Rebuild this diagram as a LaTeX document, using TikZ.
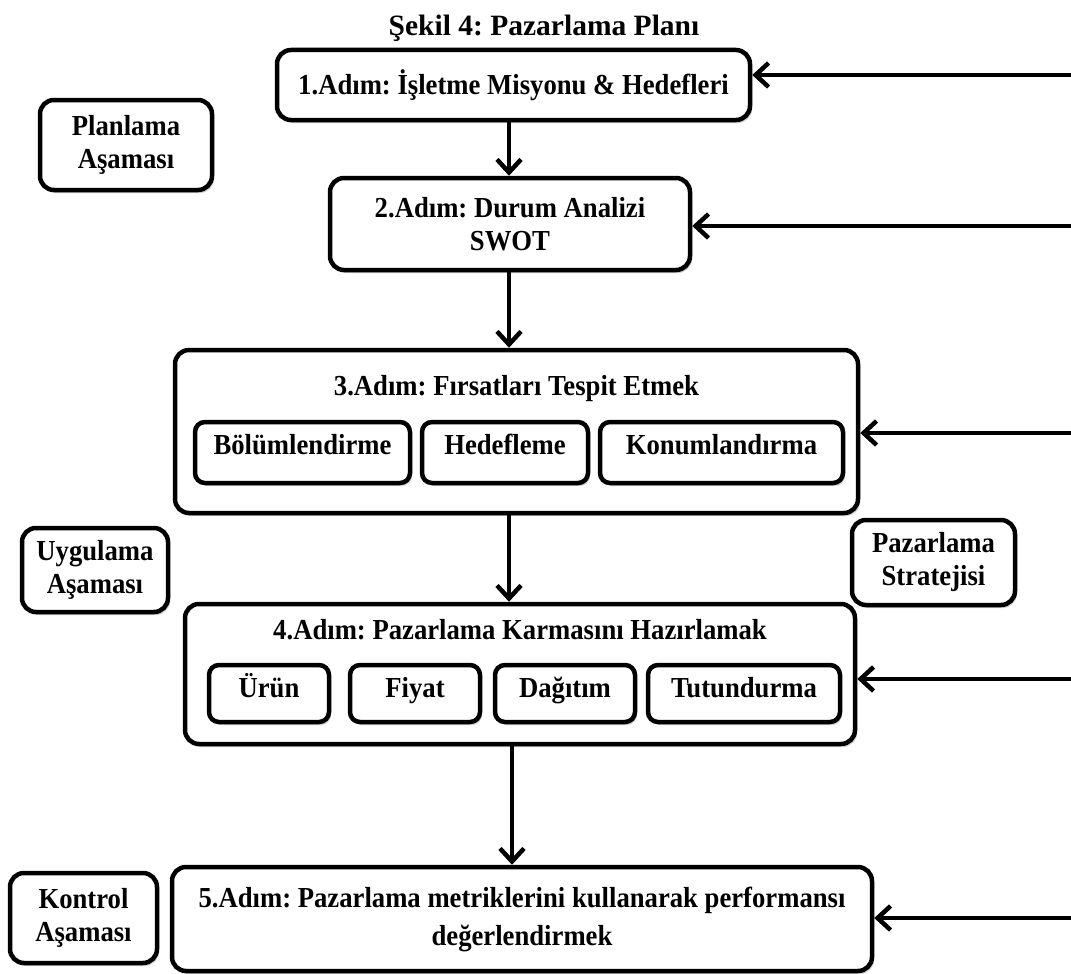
\documentclass[tikz,border=0pt]{standalone}
\usepackage{fontspec}
\setmainfont{Liberation Serif}[FakeStretch=0.92]
\newfontfamily\titlefont{Liberation Serif}
\usetikzlibrary{arrows.meta,shadows}
\frenchspacing
\tikzset{
  box/.style={draw=black, line width=4.5pt, rounded corners=14pt, fill=white,
    align=center, font=\fontsize{29}{36}\selectfont\bfseries,
    inner sep=0pt,
    drop shadow={shadow xshift=2pt, shadow yshift=-3pt, opacity=0.35, fill=gray}},
  sub/.style={box, rounded corners=10pt},
  lbl/.style={align=center, font=\fontsize{29}{36}\selectfont\bfseries, inner sep=0pt},
  arr/.style={line width=4.5pt, -{Straight Barb[length=13pt,width=24pt,line width=4.5pt]}},
}
\begin{document}
\begin{tikzpicture}[x=1pt,y=-1pt]
\useasboundingbox[fill=white] (0,0) rectangle (1071,974);

\node[lbl, font=\titlefont\fontsize{29.5}{36}\selectfont\bfseries] (title) at (544,28) {Şekil 4: Pazarlama Planı};

% steps
\node[box, minimum width=473pt, minimum height=70pt] (s1) at (513.5,85)
  {1.Adım: İşletme Misyonu \& Hedefleri};
\node[box, minimum width=360pt, minimum height=92pt] (s2) at (510,224)
  {2.Adım: Durum Analizi\\[-3pt]SWOT};
\node[box, minimum width=683pt, minimum height=163pt] (s3) at (516.5,431.5) {};
\node[lbl] (s3t) at (516.5,389) {3.Adım: Fırsatları Tespit Etmek};
\tikzset{sub3/.style={sub, minimum height=61pt, text height=20pt, text depth=17pt}}
\node[sub3, minimum width=215pt] (s3a) at (302.5,452.5) {Bölümlendirme};
\node[sub3, minimum width=166pt] (s3b) at (505,452.5) {Hedefleme};
\node[sub3, minimum width=243pt] (s3c) at (721.5,452.5) {Konumlandırma};

\node[box, minimum width=670pt, minimum height=140pt] (s4) at (520,674) {};
\node[lbl] (s4t) at (520,630) {4.Adım: Pazarlama Karmasını Hazırlamak};
\tikzset{sub4/.style={sub, minimum height=57pt, text height=20pt, text depth=13pt}}
\node[sub4, minimum width=120pt] (s4a) at (269,693.5) {Ürün};
\node[sub4, minimum width=130pt] (s4b) at (415,693.5) {Fiyat};
\node[sub4, minimum width=140pt] (s4c) at (565,693.5) {Dağıtım};
\node[sub4, minimum width=192pt] (s4d) at (744,693.5) {Tutundurma};

\node[box, minimum width=700pt, minimum height=104pt] (s5) at (522,919)
  {5.Adım: Pazarlama metriklerini kullanarak performansı\\[2pt]değerlendirmek};

% phase labels
\node[box, minimum width=172pt, minimum height=90pt] (p1) at (126,145) {Planlama\\[-3pt]Aşaması};
\node[box, minimum width=146pt, minimum height=84pt] (p2) at (95,570) {Uygulama\\[-3pt]Aşaması};
\node[box, minimum width=147pt, minimum height=90pt] (p3) at (83.5,918) {Kontrol\\[-3pt]Aşaması};
\node[box, minimum width=163pt, minimum height=85pt] (ps) at (933.5,562.5) {Pazarlama\\[-3pt]Stratejisi};

% main flow
\coordinate (mid) at (509,0);
\draw[arr] (s1.south -| mid) -- (s2.north -| mid);
\draw[arr] (s2.south -| mid) -- (s3.north -| mid);
\draw[arr] (s3.south -| mid) -- (s4.north -| mid);
\coordinate (mid5) at (512,0);
\draw[arr] (s4.south -| mid5) -- (s5.north -| mid5);

% feedback from the right edge
\coordinate (r1) at (1071,75);
\coordinate (r2) at (1071,226);
\coordinate (r3) at (1071,433);
\coordinate (r4) at (1071,679);
\coordinate (r5) at (1071,918);
\draw[arr] (r1) -- (r1 -| s1.east);
\draw[arr] (r2) -- (r2 -| s2.east);
\draw[arr] (r3) -- (r3 -| s3.east);
\draw[arr] (r4) -- (r4 -| s4.east);
\draw[arr] (r5) -- (r5 -| s5.east);
\end{tikzpicture}
\end{document}
